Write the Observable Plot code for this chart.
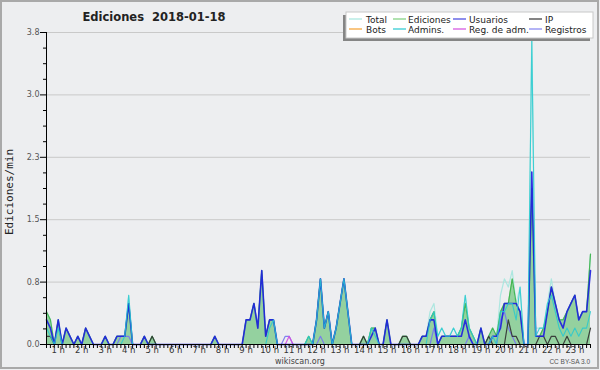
<!DOCTYPE html>
<html><head><meta charset="utf-8">
<script src="https://cdn.jsdelivr.net/npm/d3@7"></script>
<script src="https://cdn.jsdelivr.net/npm/@observablehq/plot@0.6"></script>
<style>body{margin:0;background:#fff}</style>
</head><body><div id="chart"></div>
<script>
// 10-minute bins, edits per minute
const total = [
0.4,0.3,0,0.3,0,0.2,0.1,0,0.1,0,
0.2,0.1,0,0,0,0.1,0,0,0.1,0.1,
0.1,0.6,0,0,0,0.1,0,0.1,0,0,
0,0,0,0,0,0,0,0,0,0,
0,0,0,0.1,0,0,0,0,0,0,
0,0.3,0.3,0.5,0.2,0.9,0.1,0.3,0.3,0,
0,0,0,0,0,0,0,0.1,0,0.3,
0.8,0.2,0.4,0,0.2,0.5,0.8,0.4,0,0,
0,0.1,0,0.2,0.2,0,0,0.3,0,0,
0,0.1,0.1,0,0,0,0.1,0.1,0.4,0.5,
0.1,0.2,0.1,0.1,0.2,0.1,0.2,0.6,0.2,0.1,
0,0.2,0,0.1,0.2,0.1,0.6,0.8,0.7,0.9,
0.5,0.7,0,0,3.8,0.2,0.2,0.2,0.5,0.8,
0.5,0.3,0.3,0.4,0.5,0.6,0.3,0.4,0.4,1.1];
const ediciones = [
0.4,0.3,0,0.3,0,0.2,0.1,0,0.1,0,
0.2,0.1,0,0,0,0.1,0,0,0.1,0.1,
0.1,0.5,0,0,0,0.1,0,0.1,0,0,
0,0,0,0,0,0,0,0,0,0,
0,0,0,0.1,0,0,0,0,0,0,
0,0.3,0.3,0.5,0.2,0.9,0.1,0.3,0.3,0,
0,0,0,0,0,0,0,0.1,0,0.3,
0.8,0.2,0.4,0,0.2,0.5,0.8,0.4,0,0,
0,0.1,0,0.2,0.2,0,0,0.3,0,0,
0,0.1,0.1,0,0,0,0.1,0.1,0.3,0.4,
0,0.1,0.1,0.1,0.1,0.1,0.2,0.5,0.2,0.1,
0,0.2,0,0.1,0.2,0.1,0.4,0.5,0.5,0.8,
0.5,0.4,0,0,1.9,0.1,0.1,0.2,0.4,0.7,
0.5,0.3,0.3,0.4,0.5,0.6,0.3,0.4,0.4,1.1];
const usuarios = [
0.3,0.2,0,0.3,0,0.2,0.1,0,0.1,0,
0.2,0.1,0,0,0,0.1,0,0,0.1,0.1,
0.1,0.5,0,0,0,0.1,0,0,0,0,
0,0,0,0,0,0,0,0,0,0,
0,0,0,0.1,0,0,0,0,0,0,
0,0.3,0.3,0.5,0.2,0.9,0.1,0.3,0.3,0,
0,0,0,0,0,0,0,0,0,0.3,
0.8,0.2,0.4,0,0.2,0.5,0.8,0.4,0,0,
0,0,0,0.1,0.2,0,0,0.3,0,0,
0,0,0,0,0,0,0.1,0.1,0.3,0.3,
0,0.1,0.1,0.1,0.1,0.1,0.1,0.3,0.1,0,
0,0.2,0,0,0.1,0.1,0.2,0.5,0.5,0.5,
0.5,0.4,0,0,2.1,0.1,0.1,0.1,0.4,0.7,
0.5,0.3,0.2,0.4,0.5,0.6,0.3,0.4,0.4,0.9];
const ip = [
0.1,0.1,0,0,0,0,0,0,0,0,
0,0,0,0,0,0,0,0,0,0,
0,0,0,0,0,0,0,0.1,0,0,
0,0,0,0,0,0,0,0,0,0,
0,0,0,0,0,0,0,0,0,0,
0,0,0,0,0,0,0,0,0,0,
0,0,0,0,0,0,0,0,0,0,
0,0,0,0,0,0,0,0,0,0,
0,0.1,0,0,0,0,0,0,0,0,
0,0.1,0.1,0,0,0,0,0,0,0,
0,0,0,0,0,0,0,0,0,0,
0,0,0,0.1,0,0,0,0,0.3,0.1,
0.1,0,0,0,0,0,0.1,0.1,0,0.1,
0.1,0,0,0.1,0,0,0,0,0,0.2];
const bots = [
0,0,0,0,0,0,0,0,0,0,
0,0,0,0,0,0,0,0,0,0,
0,0,0,0,0,0,0,0,0,0,
0,0,0,0,0,0,0,0,0,0,
0,0,0,0,0,0,0,0,0,0,
0,0,0,0,0,0,0,0,0,0,
0,0,0,0,0,0,0,0,0,0,
0,0,0,0,0,0,0,0,0,0,
0,0,0,0,0,0,0,0,0,0,
0,0,0,0,0,0,0,0,0,0,
0,0,0,0,0,0,0,0,0,0,
0,0,0,0,0,0,0,0,0,0,
0,0,0,0,0,0,0,0,0,0,
0,0,0,0,0,0,0,0,0,0];
const admins = [
0.2,0.1,0,0.2,0,0,0,0,0,0,
0,0,0,0,0,0,0,0,0,0,
0.1,0.6,0,0,0,0,0,0,0,0,
0,0,0,0,0,0,0,0,0,0,
0,0,0,0,0,0,0,0,0,0,
0,0,0,0,0,0,0,0.2,0.3,0,
0,0,0,0,0,0,0,0.1,0,0.3,
0.8,0.2,0.4,0,0.2,0.5,0.8,0.4,0,0,
0,0,0,0.2,0.1,0,0,0,0,0,
0,0,0,0,0,0,0,0,0.3,0.4,
0.1,0.2,0.1,0.1,0.2,0.1,0.2,0.6,0.2,0.1,
0,0,0,0,0.1,0,0.4,0.4,0.5,0.5,
0.3,0.7,0,0,3.7,0.1,0.2,0.2,0.5,0.6,
0.4,0.2,0.1,0.2,0.1,0.2,0.1,0.2,0.2,0.4];
const regAdm = [
0,0,0,0,0,0,0,0,0,0,
0,0,0,0,0,0,0,0,0,0,
0,0,0,0,0,0,0,0,0,0,
0,0,0,0,0,0,0,0,0,0,
0,0,0,0,0,0,0,0,0,0,
0,0,0,0,0,0,0,0,0,0,
0,0,0.1,0,0,0,0,0,0,0,
0,0,0,0,0,0,0,0,0,0,
0,0,0,0,0,0,0,0,0,0,
0,0,0,0,0,0,0,0,0,0,
0,0,0,0,0,0,0,0,0,0,
0,0,0,0,0,0,0,0,0,0,
0,0,0,0,0,0,0,0,0,0,
0,0,0,0,0,0,0,0,0,0];
const registros = [
0,0,0,0,0,0,0,0,0,0,
0,0,0,0,0,0,0,0,0,0.1,
0.1,0.1,0,0,0,0,0,0,0,0,
0,0,0,0,0,0,0,0,0,0,
0,0,0,0,0,0,0,0,0,0,
0,0,0,0,0,0,0,0,0,0,
0,0.1,0.1,0,0,0,0,0,0,0,
0.1,0,0,0,0,0,0,0,0,0,
0,0,0,0,0,0,0,0,0,0,
0,0,0,0,0,0,0,0,0,0.2,
0,0,0,0,0,0,0,0,0.1,0,
0,0,0,0,0,0,0.3,0.4,0.2,0.1,
0,0,0,0,0,0,0,0,0,0,
0,0,0,0,0,0,0,0,0,0];

const hourLabels = ["1 h","2 h","3 h","4 h","5 h","6 h","7 h","8 h","9 h","10 h","11 h","12 h",
  "13 h","14 h","15 h","16 h","17 h","18 h","19 h","20 h","21 h","22 h","23 h"];
const yTicks = [0, 0.76, 1.52, 2.28, 3.04, 3.8];
const yMinorTicks = [0.19,0.38,0.57,0.95,1.14,1.33,1.71,1.9,2.09,2.47,2.66,2.85,3.23,3.42,3.61];
const legendLabels = ["Total","Ediciones","Usuarios","IP","Bots","Admins.","Reg. de adm.","Registros"];

const C = {
  total: "#a6e6de", ediciones: "#3db34a", fill: "#8fcf9a", usuarios: "#2020e0", ip: "#333333",
  bots: "#f5a030", admins: "#27c9d0", regAdm: "#d24ee0", registros: "#7676f0"
};
const legendColors = [C.total, "#7ccf7c", "#4444e0", C.ip, C.bots, C.admins, C.regAdm, "#8282f0"];

const idx = d3.range(total.length);
const L = (arr, stroke, w = 1.2, op = 0.92) => Plot.line(idx, {x: i => i, y: i => arr[i], stroke, strokeWidth: w, strokeOpacity: op});

const chart = Plot.plot({
  width: 600, height: 370,
  marginLeft: 46, marginRight: 10, marginTop: 32, marginBottom: 26,
  style: {background: "#edeef0", fontFamily: "DejaVu Sans", overflow: "visible"},
  x: {domain: [0, 139], axis: null},
  y: {domain: [0, 3.8], axis: null},
  marks: [
    Plot.gridY(yTicks, {stroke: "#c9c9c9", strokeOpacity: 1}),
    Plot.areaY(idx, {x: i => i, y: i => ediciones[i], fill: C.fill, fillOpacity: 0.95}),
    L(total, C.total),
    L(ediciones, C.ediciones),
    L(registros, C.registros),
    L(regAdm, C.regAdm),
    L(bots, C.bots),
    L(ip, C.ip),
    L(usuarios, C.usuarios, 1.6),
    L(admins, C.admins, 1.1, 0.85),
    Plot.ruleX([0], {stroke: "#000"}),
    Plot.ruleY([0], {stroke: "#000"}),
    Plot.axisY(yTicks, {tickSize: 6, tickPadding: 1, tickFormat: d => d.toFixed(1), fontSize: 8, fill: "#555", stroke: "#000", label: null}),
    Plot.axisY(yMinorTicks, {tickSize: 3, tickFormat: () => "", stroke: "#000", label: null}),
    Plot.axisX(idx, {tickSize: 4, tickFormat: () => "", stroke: "#000", label: null}),
    Plot.text(hourLabels, {x: (d, i) => (i + 1) * 6 - 3, text: d => d, frameAnchor: "bottom", lineAnchor: "top", dy: 2, fontSize: 8.5, fill: "#333"})
  ]
});
document.getElementById("chart").appendChild(chart);

const svg = d3.select(chart);
svg.append("rect").attr("x", 1).attr("y", 1).attr("width", 597).attr("height", 367)
  .attr("fill", "none").attr("stroke", "#a9a9a9").attr("stroke-width", 2);
svg.append("text").attr("x", 154).attr("y", 21).attr("text-anchor", "middle")
  .style("white-space", "pre").attr("font-family", "DejaVu Sans").attr("font-weight", "bold")
  .attr("font-size", 11.5).attr("fill", "#222").text("Ediciones  2018-01-18");
svg.append("text").attr("transform", "translate(13,192) rotate(-90)").attr("text-anchor", "middle")
  .attr("font-family", "DejaVu Sans Mono").attr("font-size", 11).attr("fill", "#222").text("Ediciones/min");
svg.append("text").attr("x", 300).attr("y", 364).attr("text-anchor", "middle")
  .attr("font-family", "DejaVu Sans").attr("font-size", 8).attr("fill", "#444").text("wikiscan.org");
svg.append("text").attr("x", 590).attr("y", 364).attr("text-anchor", "end")
  .attr("font-family", "Liberation Sans").attr("font-size", 6.5).attr("fill", "#555").text("CC BY-SA 3.0");

// legend
svg.append("rect").attr("x", 343).attr("y", 15).attr("width", 247).attr("height", 26).attr("fill", "#858585");
svg.append("rect").attr("x", 346).attr("y", 12).attr("width", 247).attr("height", 26)
  .attr("fill", "#fff").attr("stroke", "#c8c8c8");
const colLine = [349, 393, 453, 529], colText = [366, 408, 469, 545], rowY = [19, 29];
legendLabels.forEach((lab, k) => {
  const c = k % 4, r = Math.floor(k / 4);
  const g = svg.append("g");
  g.append("line").attr("x1", colLine[c]).attr("x2", colLine[c] + 13).attr("y1", rowY[r]).attr("y2", rowY[r])
    .attr("stroke", legendColors[k]).attr("stroke-width", 1.2);
  g.append("text").attr("x", colText[c]).attr("y", rowY[r] + 3.5).attr("text-anchor", "start")
    .attr("font-family", "DejaVu Sans").attr("font-size", 9).attr("fill", "#222").text(lab);
});
</script>
</body></html>
